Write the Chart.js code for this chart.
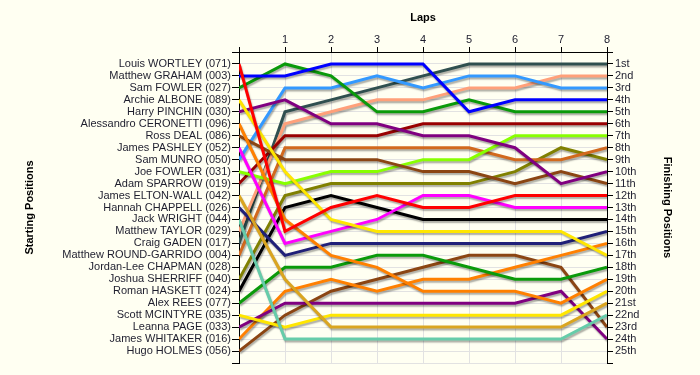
<!DOCTYPE html>
<html>
<head>
<meta charset="utf-8">
<script src="https://cdn.jsdelivr.net/npm/chart.js@4"></script>
<style>
  html, body { margin: 0; padding: 0; background: #fffff2; }
  #wrap { width: 700px; height: 375px; }
</style>
</head>
<body>
<div id="wrap"><canvas id="c" width="700" height="375"></canvas></div>
<script>
// ---- data ----
const laps = [0, 1, 2, 3, 4, 5, 6, 7, 8];
const drivers = [
  "Louis WORTLEY (071)", "Matthew GRAHAM (003)", "Sam FOWLER (027)", "Archie ALBONE (089)",
  "Harry PINCHIN (030)", "Alessandro CERONETTI (096)", "Ross DEAL (086)", "James PASHLEY (052)",
  "Sam MUNRO (050)", "Joe FOWLER (031)", "Adam SPARROW (019)", "James ELTON-WALL (042)",
  "Hannah CHAPPELL (026)", "Jack WRIGHT (044)", "Matthew TAYLOR (029)", "Craig GADEN (017)",
  "Matthew ROUND-GARRIDO (004)", "Jordan-Lee CHAPMAN (028)", "Joshua SHERRIFF (040)",
  "Roman HASKETT (024)", "Alex REES (077)", "Scott MCINTYRE (035)", "Leanna PAGE (033)",
  "James WHITAKER (016)", "Hugo HOLMES (056)"
];
const finishLabels = ["1st","2nd","3rd","4th","5th","6th","7th","8th","9th","10th","11th","12th",
  "13th","14th","15th","16th","17th","18th","19th","20th","21st","22nd","23rd","24th","25th"];

// position of each driver at the end of each lap (lap 0 = grid)
const wortley   = [1, 15, 13, 12, 13, 13, 12, 12, 12];
const graham    = [2, 2, 1, 1, 1, 5, 4, 4, 4];
const samFowler = [3, 1, 2, 5, 5, 4, 5, 5, 5];
const albone    = [4, 10, 14, 15, 15, 15, 15, 15, 17];
const pinchin   = [5, 4, 6, 6, 7, 7, 8, 11, 10];
const ceronetti = [6, 14, 17, 18, 20, 20, 20, 21, 19];
const deal      = [7, 9, 9, 9, 10, 10, 11, 10, 11];
const pashley   = [8, 16, 15, 14, 12, 12, 13, 13, 13];
const munro     = [9, 3, 3, 2, 3, 2, 2, 3, 3];
const joeFowler = [10, 11, 10, 10, 9, 9, 7, 7, 7];
const sparrow   = [11, 7, 7, 7, 6, 6, 6, 6, 6];
const eltonWall = [12, 19, 23, 23, 23, 23, 23, 23, 21];
const chappell  = [13, 17, 16, 16, 16, 16, 16, 16, 15];
const wright    = [14, 24, 24, 24, 24, 24, 24, 24, 22];
const taylor    = [15, 6, 5, 4, 4, 3, 3, 2, 2];
const gaden     = [16, 5, 4, 3, 2, 1, 1, 1, 1];
const roundG    = [17, 8, 8, 8, 8, 8, 9, 9, 8];
const chapman   = [18];
const sherriff  = [19, 12, 11, 11, 11, 11, 10, 8, 9];
const haskett   = [20, 13, 12, 13, 14, 14, 14, 14, 14];
const rees      = [21, 18, 18, 17, 17, 18, 19, 19, 18];
const mcintyre  = [22, 23, 22, 22, 22, 22, 22, 22, 20];
const page      = [23, 21, 21, 21, 21, 21, 21, 20, 24];
const whitaker  = [24, 20, 19, 20, 19, 19, 18, 17, 16];
const holmes    = [25, 22, 20, 19, 18, 17, 17, 18, 23];

const series = [wortley, graham, samFowler, albone, pinchin, ceronetti, deal, pashley, munro,
  joeFowler, sparrow, eltonWall, chappell, wright, taylor, gaden, roundG, chapman, sherriff,
  haskett, rees, mcintyre, page, whitaker, holmes];

const colors = ["#ff0000", "#0000ff", "#0a9a0a", "#ffe600", "#800080", "#ff8000", "#8b4513",
  "#ff00ff", "#3399ff", "#88ff00", "#990000", "#daa520", "#202078", "#66ccaa", "#ffa07a",
  "#2f4f4f", "#d2691e", "#808000", "#808000", "#000000", "#0a9a0a", "#ffe600", "#800080",
  "#ff8000", "#8b4513"];

// ---- chart ----
const FONT = "'Liberation Sans', Arial, sans-serif";
const TXT = "#1e1e2e";
const GRID = "#e2e2e2";

const datasets = series.map((s, i) => ({
  label: drivers[i],
  data: s.map((p, k) => ({ x: laps[k], y: p })),
  borderColor: colors[i],
  backgroundColor: colors[i],
  borderWidth: 3,
  pointRadius: 0,
  pointHoverRadius: 0,
  tension: 0,
  fill: false,
  yAxisID: 'y'
}));

const bgPlugin = {
  id: 'bg',
  beforeDraw(chart) {
    const ctx = chart.ctx;
    ctx.save();
    ctx.fillStyle = '#fffff2';
    ctx.fillRect(0, 0, chart.width, chart.height);
    ctx.restore();
  }
};
const shadowPlugin = {
  id: 'shadow',
  beforeDatasetDraw(chart) {
    const ctx = chart.ctx;
    ctx.save();
    ctx.shadowColor = 'rgba(0,0,0,0.32)';
    ctx.shadowBlur = 1.5;
    ctx.shadowOffsetX = 1;
    ctx.shadowOffsetY = 2;
  },
  afterDatasetDraw(chart) { chart.ctx.restore(); }
};

const posTicks = s => { s.ticks = []; for (let v = 0; v <= 26; v++) s.ticks.push({ value: v }); };

new Chart(document.getElementById('c'), {
  type: 'line',
  data: { datasets },
  plugins: [bgPlugin, shadowPlugin],
  options: {
    responsive: false,
    animation: false,
    layout: { padding: { left: 0, right: 0, top: 0, bottom: 12 } },
    plugins: { legend: { display: false }, tooltip: { enabled: false } },
    scales: {
      x: {
        type: 'linear', position: 'top', min: 0, max: 8,
        ticks: { stepSize: 1, padding: 0, color: TXT, font: { family: FONT, size: 11 },
          callback: v => (v === 0 ? '' : String(v)) },
        grid: { color: GRID, tickColor: '#000', tickLength: 5 },
        border: { color: '#000', width: 1 },
        title: { display: true, text: 'Laps', color: '#000', padding: { top: 11, bottom: 0 },
          font: { family: FONT, size: 11, weight: 'bold' } },
        afterFit: s => { s.height = 52; }
      },
      y: {
        type: 'linear', position: 'left', min: 0, max: 26, reverse: true,
        afterBuildTicks: posTicks,
        ticks: { stepSize: 1, autoSkip: false, padding: 1, color: TXT, font: { family: FONT, size: 11 },
          callback: v => drivers[v - 1] || '' },
        grid: { color: GRID, tickColor: '#000', tickLength: 7 },
        border: { color: '#000', width: 1 },
        title: { display: true, text: 'Starting Positions', color: '#000', padding: { top: 23, bottom: 0 },
          font: { family: FONT, size: 11, weight: 'bold' } },
        afterFit: s => { s.width = 239; }
      },
      y2: {
        type: 'linear', position: 'right', min: 0, max: 26, reverse: true, display: true,
        afterBuildTicks: posTicks,
        ticks: { stepSize: 1, autoSkip: false, padding: 2, color: TXT, font: { family: FONT, size: 11 },
          callback: v => finishLabels[v - 1] || '' },
        grid: { drawOnChartArea: false, tickColor: '#000', tickLength: 6 },
        border: { color: '#000', width: 1 },
        title: { display: true, text: 'Finishing Positions', color: '#000', padding: { top: 26, bottom: 0 },
          font: { family: FONT, size: 11, weight: 'bold' } },
        afterFit: s => { s.width = 93; }
      }
    }
  }
});
</script>
</body>
</html>
